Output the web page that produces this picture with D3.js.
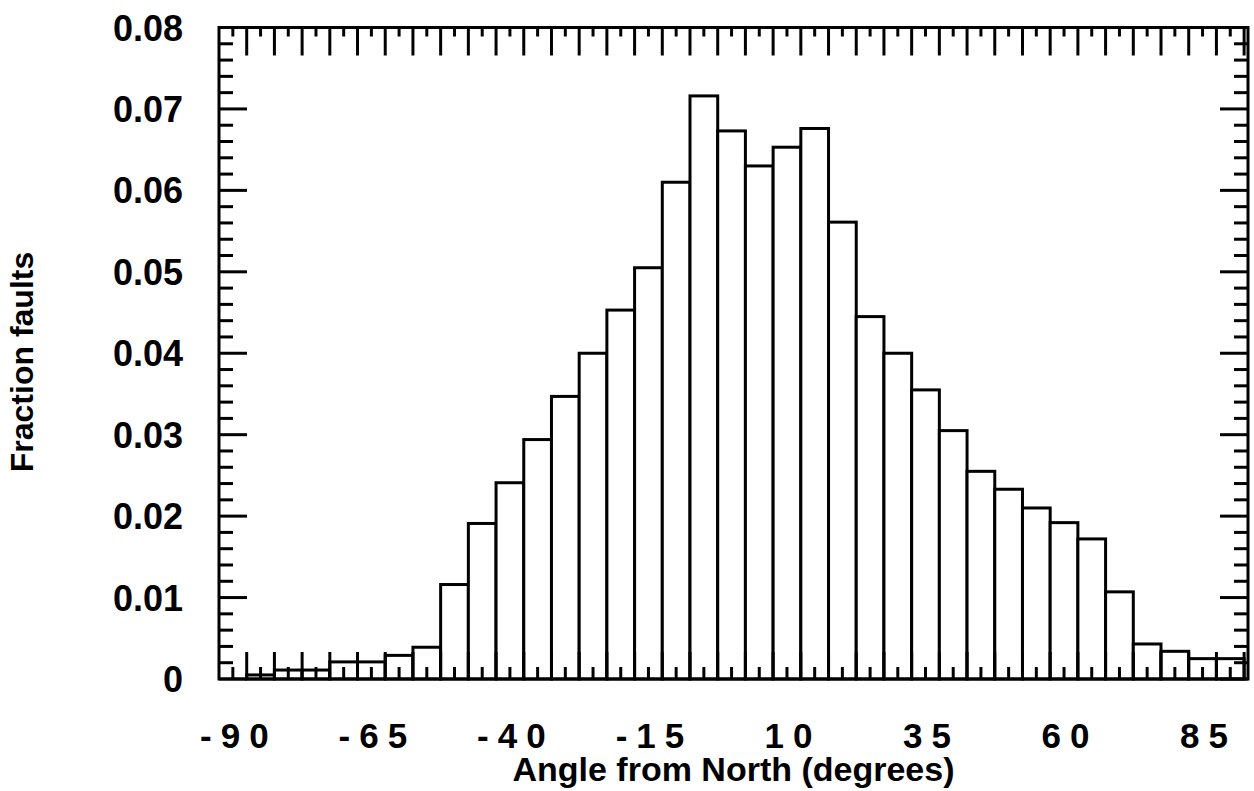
<!DOCTYPE html>
<meta charset="utf-8">

<!-- Load d3.js -->
<script src="https://d3js.org/d3.v7.min.js"></script>

<style>
  body { margin: 0; background: #fff; }
  text { font-family: "Liberation Sans", Arial, Helvetica, sans-serif; font-weight: bold; fill: #000; }
</style>

<body>

<script>

// bin centres (degrees) and fraction of faults in each 5 degree bin
var binCenters = [-90, -85, -80, -75, -70, -65, -60, -55, -50, -45, -40, -35, -30, -25, -20, -15, -10, -5,
                  0, 5, 10, 15, 20, 25, 30, 35, 40, 45, 50, 55, 60, 65, 70, 75, 80, 85, 90];
var fractions = [0, 0.0005, 0.0011, 0.0011, 0.0021, 0.0021, 0.0029, 0.0039, 0.0116, 0.0191, 0.0241, 0.0294,
                 0.0347, 0.0400, 0.0453, 0.0505, 0.0610, 0.0716, 0.0673, 0.0630, 0.0653, 0.0676, 0.0561,
                 0.0445, 0.0400, 0.0355, 0.0305, 0.0255, 0.0233, 0.0210, 0.0192, 0.0172, 0.0107, 0.0043,
                 0.0034, 0.0025, 0.0025];
var binWidth = 5;

// tick labels
var xLabels = [-90, -65, -40, -15, 10, 35, 60, 85];
var yLabels = [0, 0.01, 0.02, 0.03, 0.04, 0.05, 0.06, 0.07, 0.08];

var width = 1254,
    height = 791;

// plot frame (pixels)
var pLeft = 219, pRight = 1248, pTop = 27.5, pBottom = 679;

var svg = d3.select("body").append("svg")
    .attr("width", width)
    .attr("height", height);

var x = d3.scaleLinear().domain([-92.5, 93.2]).range([pLeft, pRight]);
var y = d3.scaleLinear().domain([0, 0.08]).range([pBottom, pTop]);

// bars
svg.append("g")
    .selectAll("rect")
    .data(binCenters)
    .enter().append("rect")
    .attr("x", function(d) { return x(d - binWidth / 2); })
    .attr("width", function(d) { return x(d + binWidth / 2) - x(d - binWidth / 2); })
    .attr("y", function(d, i) { return y(fractions[i]); })
    .attr("height", function(d, i) { return y(0) - y(fractions[i]); })
    .style("fill", "#fff")
    .style("stroke", "#000")
    .style("stroke-width", 3);

// ticks: tall at bin edges, short at bin centres
var edges = binCenters.map(function(d) { return d + binWidth / 2; })
    .filter(function(d) { return x(d) < pRight - 2; });

var ticks = svg.append("g").style("stroke", "#000").style("stroke-width", 3);

ticks.selectAll(".xe").data(edges).enter().append("line")
    .attr("x1", function(d) { return x(d); }).attr("x2", function(d) { return x(d); })
    .attr("y1", pBottom).attr("y2", pBottom - 27);
ticks.selectAll(".xc").data(binCenters).enter().append("line")
    .attr("x1", function(d) { return x(d); }).attr("x2", function(d) { return x(d); })
    .attr("y1", pBottom).attr("y2", pBottom - 12);
ticks.selectAll(".te").data(edges).enter().append("line")
    .attr("x1", function(d) { return x(d); }).attr("x2", function(d) { return x(d); })
    .attr("y1", pTop).attr("y2", pTop + 28);
ticks.selectAll(".tc").data(binCenters).enter().append("line")
    .attr("x1", function(d) { return x(d); }).attr("x2", function(d) { return x(d); })
    .attr("y1", pTop).attr("y2", pTop + 9);

// y ticks, minor every 0.002
var yMinor = d3.range(0, 41).map(function(i) { return i * 0.002; });
ticks.selectAll(".yl").data(yMinor).enter().append("line")
    .attr("x1", pLeft)
    .attr("x2", function(d, i) { return pLeft + (i % 5 === 0 ? 28 : 14); })
    .attr("y1", function(d) { return y(d); }).attr("y2", function(d) { return y(d); });
ticks.selectAll(".yr").data(yMinor).enter().append("line")
    .attr("x1", pRight)
    .attr("x2", function(d, i) { return pRight - (i % 5 === 0 ? 28 : 14); })
    .attr("y1", function(d) { return y(d); }).attr("y2", function(d) { return y(d); });

// frame
svg.append("rect")
    .attr("x", pLeft).attr("y", pTop)
    .attr("width", pRight - pLeft).attr("height", pBottom - pTop)
    .style("fill", "none")
    .style("stroke", "#000")
    .style("stroke-width", 3);

// y labels
svg.append("g").selectAll("text")
    .data(yLabels)
    .enter().append("text")
    .attr("x", 183)
    .attr("y", function(d) { return y(d) + 13; })
    .attr("text-anchor", "end")
    .style("font-size", "36px")
    .text(function(d) { return d === 0 ? "0" : d3.format(".2f")(d); });

// x labels (spaced out digits)
svg.append("g").selectAll("text")
    .data(xLabels)
    .enter().append("text")
    .attr("x", function(d) { return x(d) + 6; })
    .attr("y", 748)
    .attr("text-anchor", "middle")
    .style("font-size", "35px")
    .style("letter-spacing", "9px")
    .text(function(d) { return d; });

// axis titles
svg.append("text")
    .attr("x", (pLeft + pRight) / 2)
    .attr("y", 781)
    .attr("text-anchor", "middle")
    .style("font-size", "34px")
    .text("Angle from North (degrees)");

svg.append("text")
    .attr("transform", "translate(33,362) rotate(-90)")
    .attr("text-anchor", "middle")
    .style("font-size", "32px")
    .text("Fraction faults");

</script>

</body>
